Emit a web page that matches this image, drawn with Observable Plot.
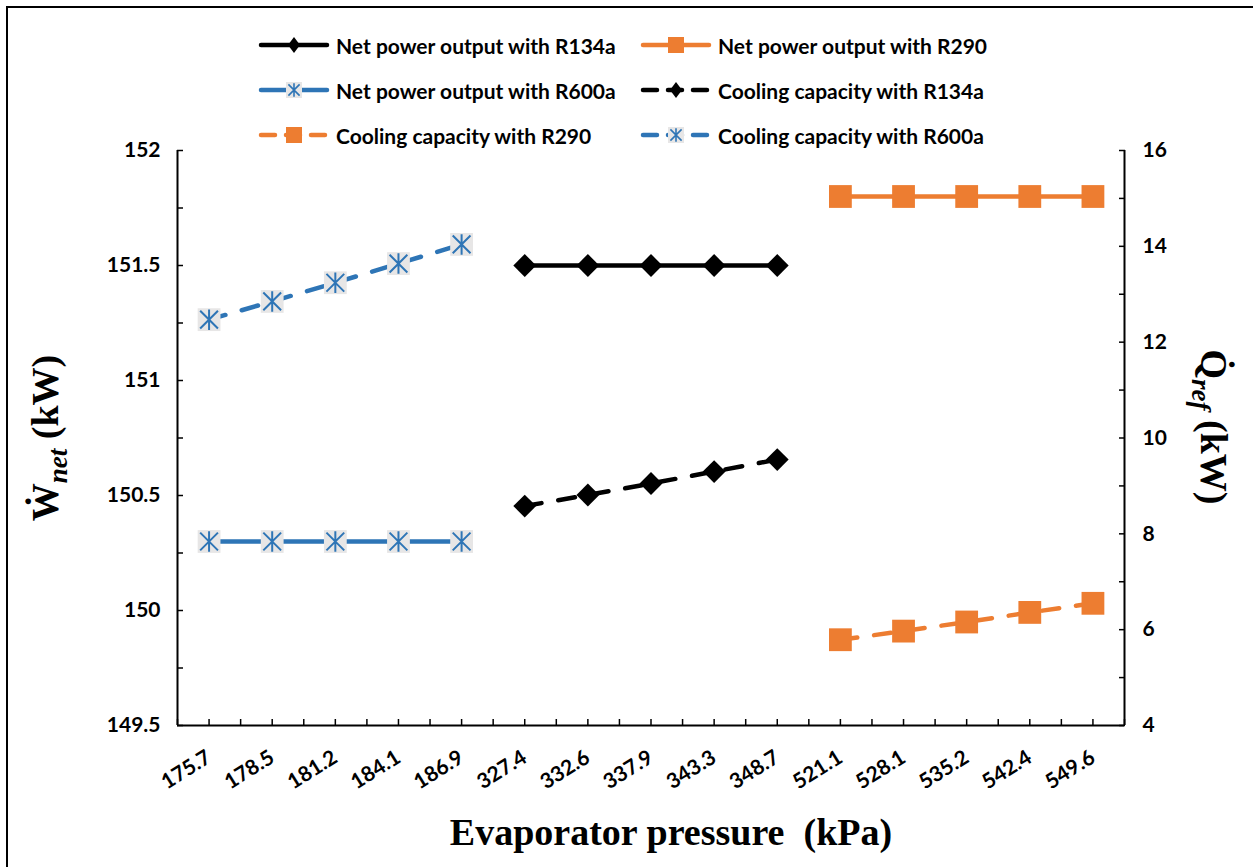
<!DOCTYPE html>
<html>
<head>
<meta charset="utf-8">
<script src="https://cdn.jsdelivr.net/npm/d3@7"></script>
<script src="https://cdn.jsdelivr.net/npm/@observablehq/plot@0.6"></script>
<style>
  body { margin: 0; background: #fff; }
  #wrap { position: relative; width: 1253px; height: 867px; overflow: hidden; background: #fff; }
  #legend { position: relative; height: 140px; font-family: Lato, sans-serif; font-weight: 700; font-size: 21px; color: #000; }
  .item { position: absolute; display: flex; align-items: center; white-space: nowrap; }
  .item svg { display: block; margin-right: 6px; }
  #frame { position: absolute; left: 6px; top: 6px; width: 1300px; height: 900px; border: 2px solid #000; pointer-events: none; }
</style>
</head>
<body>
<div id="wrap">
  <div id="legend"></div>
  <div id="chart"></div>
  <div id="frame"></div>
</div>
<script>
// ---------- data ----------
const pressures = ["175.7","178.5","181.2","184.1","186.9","327.4","332.6","337.9","343.3","348.7","521.1","528.1","535.2","542.4","549.6"];
const catsR600a = ["175.7","178.5","181.2","184.1","186.9"];
const catsR134a = ["327.4","332.6","337.9","343.3","348.7"];
const catsR290  = ["521.1","528.1","535.2","542.4","549.6"];
const netPowerR134a = [151.5, 151.5, 151.5, 151.5, 151.5];
const netPowerR290  = [151.8, 151.8, 151.8, 151.8, 151.8];
const netPowerR600a = [150.3, 150.3, 150.3, 150.3, 150.3];
const coolingR134a  = [8.58, 8.81, 9.05, 9.30, 9.55];
const coolingR290   = [5.79, 5.97, 6.16, 6.36, 6.55];
const coolingR600a  = [12.47, 12.85, 13.24, 13.64, 14.04];
const leftTickLabels  = ["149.5","150","150.5","151","151.5","152"];
const rightTickLabels = ["4","6","8","10","12","14","16"];
const seriesNames = ["Net power output with R134a","Net power output with R290","Net power output with R600a","Cooling capacity with R134a","Cooling capacity with R290","Cooling capacity with R600a"];

// ---------- styles ----------
const BLUE = "#2E75B6", ORANGE = "#ED7D31", BLACK = "#000000", GREY = "#E7E6E6";
const leftVals = leftTickLabels.map(Number);
const rightVals = rightTickLabels.map(Number);
const L0 = leftVals[0], L1 = leftVals[leftVals.length - 1];
const R0 = rightVals[0], R1 = rightVals[rightVals.length - 1];
const toLeft = r => L0 + (r - R0) * (L1 - L0) / (R1 - R0);

const diamondSym = { draw(ctx, size) { const r = Math.sqrt(size / Math.PI); ctx.moveTo(0, -r); ctx.lineTo(r, 0); ctx.lineTo(0, r); ctx.lineTo(-r, 0); ctx.closePath(); } };
const squareSym  = { draw(ctx, size) { const r = Math.sqrt(size / Math.PI); ctx.rect(-r, -r, 2 * r, 2 * r); } };
const starSym    = { draw(ctx, size) { const r = Math.sqrt(size / Math.PI); const a = r * 0.78, b = r * 0.9;
  ctx.moveTo(-a, -a); ctx.lineTo(a, a); ctx.moveTo(a, -a); ctx.lineTo(-a, a); ctx.moveTo(0, -b); ctx.lineTo(0, b); } };

const series = [
  {name: seriesNames[0], cats: catsR134a, vals: netPowerR134a, right: false, color: BLACK,  dash: false, marker: "diamond"},
  {name: seriesNames[1], cats: catsR290,  vals: netPowerR290,  right: false, color: ORANGE, dash: false, marker: "square"},
  {name: seriesNames[2], cats: catsR600a, vals: netPowerR600a, right: false, color: BLUE,   dash: false, marker: "star"},
  {name: seriesNames[3], cats: catsR134a, vals: coolingR134a,  right: true,  color: BLACK,  dash: true,  marker: "diamond"},
  {name: seriesNames[4], cats: catsR290,  vals: coolingR290,   right: true,  color: ORANGE, dash: true,  marker: "square"},
  {name: seriesNames[5], cats: catsR600a, vals: coolingR600a,  right: true,  color: BLUE,   dash: true,  marker: "star"}
];

const DASH = "17,17";
const MR = 11.4;

const marks = [];
for (const s of series) {
  const data = s.cats.map((c, i) => ({x: pressures.indexOf(c), y: s.right ? toLeft(s.vals[i]) : s.vals[i]}));
  marks.push(Plot.line(data, {x: d => d.x, y: d => d.y, stroke: s.color, strokeWidth: 4.5,
    strokeDasharray: s.dash ? DASH : null, strokeLinecap: "round", strokeLinejoin: "round"}));
  if (s.marker === "diamond") {
    marks.push(Plot.dot(data, {x: d => d.x, y: d => d.y, symbol: diamondSym, r: MR, fill: s.color, stroke: "none"}));
  } else if (s.marker === "square") {
    marks.push(Plot.dot(data, {x: d => d.x, y: d => d.y, symbol: squareSym, r: MR, fill: s.color, stroke: "none"}));
  } else {
    marks.push(Plot.dot(data, {x: d => d.x, y: d => d.y, symbol: squareSym, r: MR, fill: GREY, stroke: "none"}));
    marks.push(Plot.dot(data, {x: d => d.x, y: d => d.y, symbol: starSym, r: MR, fill: "none", stroke: s.color, strokeWidth: 2}));
  }
}

const n = pressures.length;
const xTicksAll = d3.range(-0.5, n, 0.5);
const leftMinor = d3.range(L0, L1 + 1e-9, 0.25);
const rightMinor = d3.range(R0, R1 + 1e-9, 1).map(toLeft);
const fmtL = d => leftTickLabels[leftVals.findIndex(v => Math.abs(v - d) < 1e-6)];
const fmtR = d => { const r = R0 + (d - L0) * (R1 - R0) / (L1 - L0); return rightTickLabels[rightVals.findIndex(v => Math.abs(v - r) < 1e-6)]; };

const tickFont = {fontFamily: "Lato, sans-serif", fontWeight: 700, fontSize: 21, fill: "#000"};

const svg = Plot.plot({
  width: 1253, height: 727,
  marginLeft: 177, marginRight: 129, marginTop: 10, marginBottom: 142,
  style: {background: "#fff", overflow: "visible", fontFamily: "Lato, sans-serif"},
  x: {type: "linear", domain: [-0.5, n - 0.5], label: null},
  y: {domain: [L0, L1], label: null},
  marks: [
    // axis lines
    Plot.ruleY([L0], {stroke: "#000", strokeWidth: 2}),
    Plot.ruleX([-0.5, n - 0.5], {stroke: "#000", strokeWidth: 2}),
    // inward ticks
    Plot.axisX({ticks: xTicksAll, tickSize: 6, dy: -6, tickFormat: () => "", label: null, stroke: "#000", strokeWidth: 1.5}),
    Plot.axisY({ticks: leftMinor, tickSize: 6, dx: 6, tickFormat: () => "", label: null, stroke: "#000", strokeWidth: 1.5}),
    Plot.axisY({anchor: "right", ticks: rightMinor, tickSize: 6, dx: -6, tickFormat: () => "", label: null, stroke: "#000", strokeWidth: 1.5}),
    // tick labels
    Plot.axisY({ticks: leftVals, tickSize: 0, tickPadding: 17, tickFormat: fmtL, label: null, ...tickFont}),
    Plot.axisY({anchor: "right", ticks: rightVals.map(toLeft), tickSize: 0, tickPadding: 18, tickFormat: fmtR, label: null, ...tickFont}),
    Plot.axisX({ticks: d3.range(n), tickSize: 0, tickPadding: 30, tickRotate: -32, tickFormat: i => pressures[i], label: null, ...tickFont}),
    ...marks,
    // titles
    Plot.text([0], {frameAnchor: "left", dx: -132, dy: 0, rotate: -90, text: () => "Ẇnet (kW)", textAnchor: "middle", lineAnchor: "middle",
      fontFamily: "'Liberation Serif', serif", fontWeight: 700, fontSize: 38, fill: "#000", ariaLabel: () => "ytitle-left"}),
    Plot.text([0], {frameAnchor: "right", dx: 89, dy: -11, rotate: 90, text: () => "Qref (kW)", textAnchor: "middle", lineAnchor: "middle",
      fontFamily: "'Liberation Serif', serif", fontWeight: 700, fontSize: 38, fill: "#000", ariaLabel: () => "ytitle-right"}),
    Plot.text([0], {frameAnchor: "bottom", dx: 20, dy: 107, text: () => "Evaporator pressure  (kPa)", textAnchor: "middle", lineAnchor: "middle",
      fontFamily: "'Liberation Serif', serif", fontWeight: 700, fontSize: 38, fill: "#000", ariaLabel: () => "xtitle"})
  ]
});

// rich text titles (sub-scripts)
function findText(label) {
  return d3.select(svg).selectAll("text").filter(function () {
    return this.getAttribute("aria-label") === label ||
      (this.parentNode && this.parentNode.getAttribute && this.parentNode.getAttribute("aria-label") === label);
  });
}
function richTitle(label, main, sub) {
  const t = findText(label);
  t.text(null).attr("xml:space", "preserve");
  t.append("tspan").text(main);
  t.append("tspan").attr("font-style", "italic").attr("font-size", 27).attr("dy", 9).text(sub);
  t.append("tspan").attr("dy", -9).text(" (kW)");
}
richTitle("ytitle-left", "Ẇ", "net");
richTitle("ytitle-right", "Q\u0307", "ref");
findText("xtitle").attr("xml:space", "preserve");

document.getElementById("chart").appendChild(svg);

// ---------- legend ----------
const legend = d3.select("#legend");
const legendPos = [[258, 45], [640, 45], [258, 90], [640, 90], [258, 135], [640, 135]];
series.forEach((s, i) => {
  const [lx, ly] = legendPos[i];
  const item = legend.append("div").attr("class", "item").style("left", lx + "px").style("top", (ly - 15) + "px").style("height", "30px");
  const g = item.append("svg").attr("width", 72).attr("height", 30);
  g.append("line").attr("x1", 3).attr("x2", 69).attr("y1", 15).attr("y2", 15)
    .attr("stroke", s.color).attr("stroke-width", 4.5).attr("stroke-linecap", "round")
    .attr("stroke-dasharray", s.dash ? "14,11" : null);
  const m = 8;
  if (s.marker === "diamond") {
    g.append("path").attr("d", `M36,${15 - m}L${36 + m * 0.75},15L36,${15 + m}L${36 - m * 0.75},15Z`).attr("fill", s.color);
  } else if (s.marker === "square") {
    g.append("rect").attr("x", 36 - m).attr("y", 15 - m).attr("width", 2 * m).attr("height", 2 * m).attr("fill", s.color);
  } else {
    g.append("rect").attr("x", 36 - m).attr("y", 15 - m).attr("width", 2 * m).attr("height", 2 * m).attr("fill", GREY);
    const a = m * 0.7;
    g.append("path").attr("d", `M${36 - a},${15 - a}L${36 + a},${15 + a}M${36 + a},${15 - a}L${36 - a},${15 + a}M36,${15 - m * 0.85}L36,${15 + m * 0.85}`)
      .attr("stroke", s.color).attr("stroke-width", 1.6).attr("fill", "none");
  }
  item.append("span").text(s.name);
});
</script>
</body>
</html>
